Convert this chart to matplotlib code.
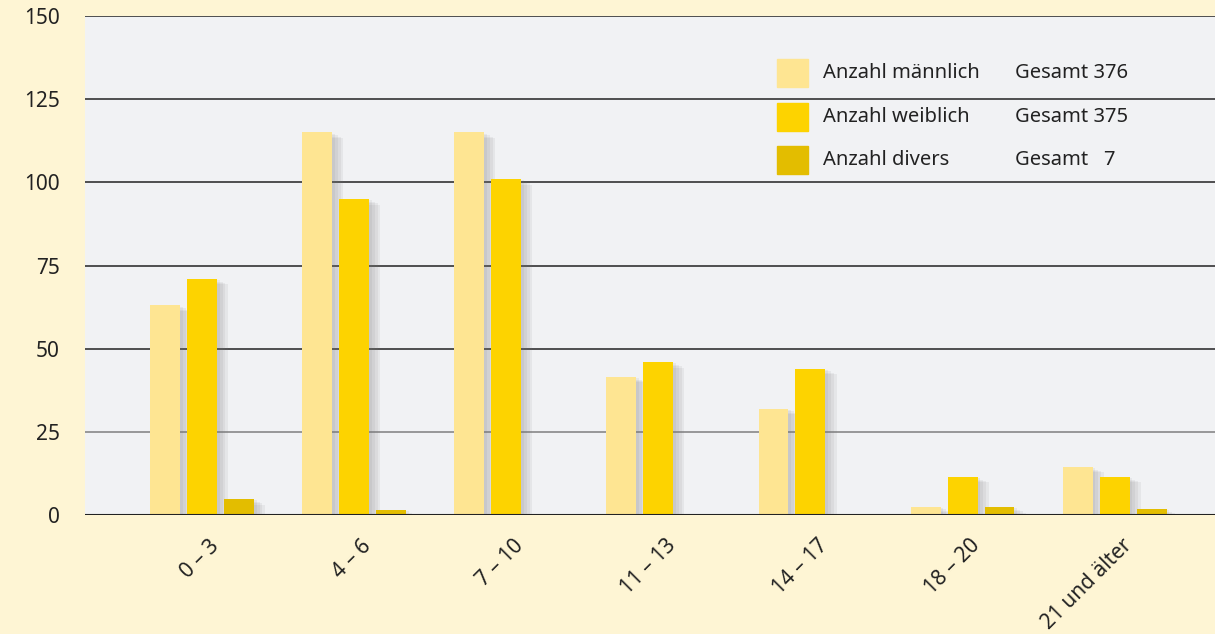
import numpy as np
import matplotlib.pyplot as plt
import matplotlib.patheffects as pe
from matplotlib.patches import Rectangle
import matplotlib.transforms as mtransforms

plt.rcParams['font.family'] = ['Noto Sans', 'DejaVu Sans']

kategorien = ['0 – 3', '4 – 6', '7 – 10', '11 – 13', '14 – 17', '18 – 20', '21 und älter']
maennlich = [63, 115, 115, 41.5, 32, 2.5, 14.5]
weiblich = [71, 95, 101, 46, 44, 11.5, 11.5]
divers = [4.8, 1.5, 0, 0, 0, 2.4, 1.8]

serien = ['Anzahl männlich', 'Anzahl weiblich', 'Anzahl divers']
gesamt = ['Gesamt 376', 'Gesamt 375', 'Gesamt   7']
farben = ['#fee592', '#fdd300', '#e3bd00']

bg = '#fef5d4'
fig = plt.figure(figsize=(12.15, 6.34), dpi=100, facecolor=bg)
ax = fig.add_axes([85/1215, 119/634, 1130/1215, 499/634])
ax.set_facecolor('#f1f2f4')

x = np.arange(len(kategorien))
w = 0.197
off = 0.243
# weicher Schatten rechts neben den Balken
shadow = [pe.SimplePatchShadow(offset=(d, -d/2), shadow_rgbFace='#777777', alpha=0.09)
          for d in (8, 6, 4, 2)] + [pe.Normal()]
for i, (vals, c) in enumerate(zip([maennlich, weiblich, divers], farben)):
    bars = ax.bar(x + (i - 1) * off, vals, width=w, color=c, zorder=3)
    for b in bars:
        b.set_path_effects(shadow)

ax.set_ylim(0, 150)
ax.set_xlim(-0.77, 6.66)
ax.set_yticks([0, 25, 50, 75, 100, 125, 150])
for v in [25, 50, 75, 100, 125, 150]:
    ax.axhline(v, color='#888888' if v == 25 else '#333333', lw=1.2, zorder=1)
ax.axhline(0, color='#222222', lw=1.5, zorder=4)
for s in ax.spines.values():
    s.set_visible(False)
ax.tick_params(axis='y', length=0, pad=18, labelsize=15, labelcolor='#222222')
ax.tick_params(axis='x', length=0, pad=20, labelsize=15, labelcolor='#222222')
ax.set_xticks(x)
ax.set_xticklabels(kategorien, rotation=45, ha='right', va='center', rotation_mode='anchor')
dx = mtransforms.ScaledTranslation(14/100, 0, fig.dpi_scale_trans)
for lab in ax.get_xticklabels():
    lab.set_transform(lab.get_transform() + dx)

# Legende
ys = [73, 117, 160]
for y, lab, g, c in zip(ys, serien, gesamt, farben):
    fy = 1 - y / 634
    fig.patches.append(Rectangle((777/1215, fy - 14/634), 31/1215, 28/634,
                                 transform=fig.transFigure, color=c, zorder=5))
    fig.text(823/1215, fy, lab, fontsize=14.5, color='#222222', va='center')
    fig.text(1015/1215, fy, g, fontsize=14.5, color='#222222', va='center')

fig.savefig('out.png', dpi=100, facecolor=bg)
